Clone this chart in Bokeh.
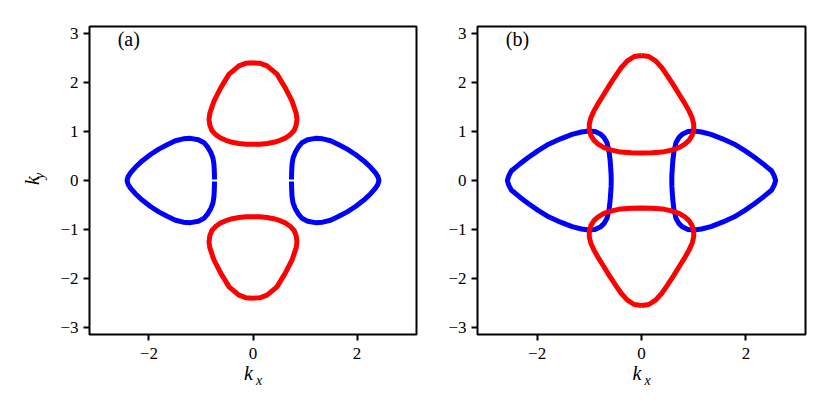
import numpy as np
from bokeh.plotting import figure
from bokeh.layouts import row
from bokeh.models import Range1d, FixedTicker, Label, LinearAxis
from bokeh.embed import file_html
from bokeh.resources import INLINE

PI = np.pi

# ---- panel (a): half-curves ----
# red pocket around (0, +ky): right half, from top to bottom
a_red_kx = [0.00, 0.14, 0.27, 0.46, 0.62, 0.75, 0.83, 0.845, 0.83, 0.79, 0.72, 0.63, 0.52, 0.40, 0.27, 0.13, 0.00]
a_red_ky = [2.40, 2.39, 2.34, 2.17, 1.89, 1.62, 1.37, 1.25, 1.13, 1.02, 0.94, 0.87, 0.82, 0.78, 0.755, 0.74, 0.74]
# blue pocket around (+kx, 0): upper half, from inner side to outer tip
a_blue_kx = [0.74, 0.742, 0.75, 0.77, 0.81, 0.87, 0.94, 1.05, 1.20, 1.34, 1.49, 1.65, 1.81, 1.97, 2.13, 2.26, 2.35, 2.40, 2.42]
a_blue_ky = [0.02, 0.15, 0.33, 0.46, 0.57, 0.68, 0.77, 0.83, 0.86, 0.85, 0.81, 0.73, 0.64, 0.53, 0.40, 0.27, 0.16, 0.08, 0.00]

# ---- panel (b) ----
b_red_kx = [0.00, 0.14, 0.27, 0.39, 0.50, 0.61, 0.72, 0.82, 0.91, 0.97, 1.00, 1.00, 0.97, 0.91, 0.83, 0.72, 0.57, 0.40, 0.20, 0.00]
b_red_ky = [2.55, 2.53, 2.44, 2.30, 2.13, 1.95, 1.76, 1.59, 1.42, 1.28, 1.15, 1.03, 0.92, 0.82, 0.74, 0.67, 0.62, 0.58, 0.565, 0.56]
b_blue_kx = [0.58, 0.582, 0.59, 0.60, 0.62, 0.66, 0.72, 0.79, 0.89, 1.01, 1.15, 1.33, 1.55, 1.78, 1.98, 2.17, 2.34, 2.49, 2.54, 2.57]
b_blue_ky = [0.00, 0.12, 0.25, 0.40, 0.58, 0.77, 0.88, 0.95, 1.00, 1.01, 0.99, 0.94, 0.85, 0.74, 0.61, 0.47, 0.33, 0.20, 0.10, 0.00]

y_ticks = [-3, -2, -1, 0, 1, 2, 3]
y_tick_labels = ["−3", "−2", "−1", "0", "1", "2", "3"]
x_ticks = [-2, 0, 2]
x_tick_labels = ["−2", "0", "2"]

SERIF = "Liberation Serif"


def red_pockets(hx, hy):
    hx = np.asarray(hx); hy = np.asarray(hy)
    xs = np.concatenate([hx, -hx[::-1]])
    ys = np.concatenate([hy, hy[::-1]])
    return (xs, ys), (xs, -ys)


def blue_pockets(hx, hy, closed):
    hx = np.asarray(hx); hy = np.asarray(hy)
    xs = np.concatenate([hx, hx[::-1]])
    ys = np.concatenate([hy, -hy[::-1]])
    if closed:
        xs = np.append(xs, xs[0]); ys = np.append(ys, ys[0])
    return (xs, ys), (-xs, ys)


def label_axis(pos, text, size, standoff, orientation="horizontal"):
    ax = LinearAxis(ticker=FixedTicker(ticks=[pos]),
                    major_label_overrides={pos: text})
    ax.axis_line_color = None
    ax.major_tick_line_color = None
    ax.major_tick_out = 0
    ax.major_tick_in = 0
    ax.minor_tick_line_color = None
    ax.minor_tick_out = 0
    ax.major_label_text_font = SERIF
    ax.major_label_text_font_style = "italic"
    ax.major_label_text_font_size = size
    ax.major_label_text_color = "black"
    ax.major_label_standoff = standoff
    ax.major_label_orientation = orientation
    return ax


def make_panel(tag, rkx, rky, bkx, bky, closed, left_border, right_border, frame_w):
    p = figure(frame_width=frame_w, frame_height=308,
               min_border_left=left_border, min_border_right=right_border,
               min_border_top=26, min_border_bottom=60,
               x_range=Range1d(-PI, PI), y_range=Range1d(-PI, PI),
               output_backend="svg", toolbar_location=None)
    p.grid.visible = False
    p.background_fill_color = "white"
    p.border_fill_color = "white"
    p.outline_line_color = "black"
    p.outline_line_width = 2
    p.outline_line_alpha = 1

    xa = p.xaxis[0]
    ya = p.yaxis[0]
    for ax in (xa, ya):
        ax.axis_line_color = None
        ax.major_tick_out = 6
        ax.major_tick_in = 0
        ax.major_tick_line_width = 2
        ax.major_tick_line_color = "black"
        ax.minor_tick_line_color = None
        ax.major_label_text_font = SERIF
        ax.major_label_text_font_size = "17px"
        ax.major_label_text_color = "black"
    xa.major_label_standoff = 7
    ya.major_label_standoff = 5
    xa.ticker = FixedTicker(ticks=x_ticks)
    xa.major_label_overrides = dict(zip(x_ticks, x_tick_labels))
    ya.ticker = FixedTicker(ticks=y_ticks)
    ya.major_label_overrides = dict(zip(y_ticks, y_tick_labels))

    # k_x axis label: "k" and a lowered, smaller subscript "x"
    p.add_layout(label_axis(-0.087, "k", "20px", 0), "below")
    p.add_layout(label_axis(0.115, "x", "14px", -14), "below")

    for xs, ys in blue_pockets(bkx, bky, closed):
        p.line(xs, ys, line_color="#0000ff", line_width=5)
    for xs, ys in red_pockets(rkx, rky):
        p.line(xs, ys, line_color="#ff0000", line_width=5)

    p.add_layout(Label(x=-2.60, y=2.89, text=tag, text_font=SERIF, text_font_size="20px",
                       text_baseline="middle", text_align="left", text_color="black"))
    return p


p1 = make_panel("(a)", a_red_kx, a_red_ky, a_blue_kx, a_blue_ky, False, 89, 11, 327)
# k_y axis label: subscript "y" as a rotated tick label, "k" as the axis label
ky_ax = label_axis(0.16, "y", "14px", 18, PI / 2)
ky_ax.axis_label = "k"
ky_ax.axis_label_text_font = SERIF
ky_ax.axis_label_text_font_style = "italic"
ky_ax.axis_label_text_font_size = "20px"
ky_ax.axis_label_text_color = "black"
ky_ax.axis_label_standoff = -21
p1.add_layout(ky_ax, "left")

p2 = make_panel("(b)", b_red_kx, b_red_ky, b_blue_kx, b_blue_ky, True, 50, 10, 328)

layout = row(p1, p2)
open("out.html", "w").write(file_html(layout, INLINE))
